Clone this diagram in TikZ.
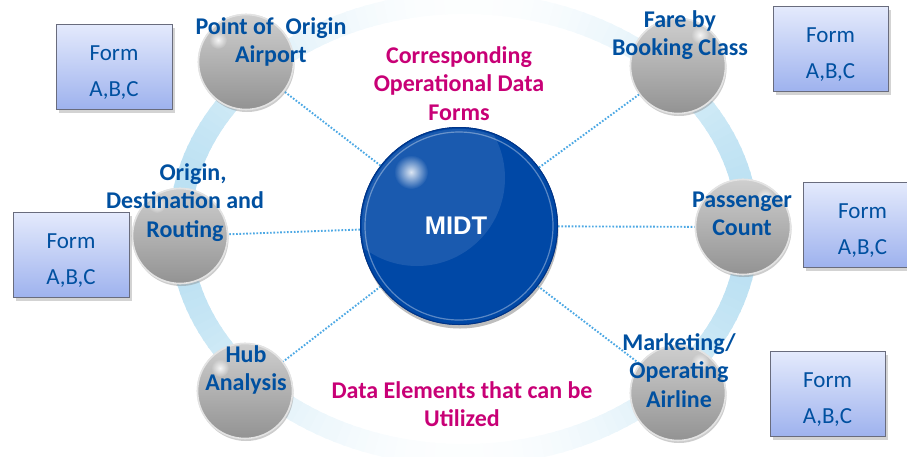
\documentclass[tikz,border=0pt]{standalone}
\usepackage{fontspec}
\setmainfont{Carlito}
\newfontfamily\midtfont{Liberation Sans}
\usetikzlibrary{shadows,fadings}
\tikzfading[name=softspot, inner color=transparent!0, outer color=transparent!100]
\definecolor{ringblue}{RGB}{186,224,242}
\definecolor{dotblue}{RGB}{76,168,228}
\definecolor{labblue}{RGB}{0,80,160}
\definecolor{magtext}{RGB}{200,0,118}
\definecolor{midtblue}{RGB}{0,72,166}
\definecolor{midtedge}{RGB}{0,52,135}
\definecolor{boxtop}{RGB}{228,234,252}
\definecolor{boxbot}{RGB}{158,178,238}
\definecolor{boxedge}{RGB}{105,108,125}
\newcommand\mlines[1]{\begin{tabular}[t]{@{}c@{}}#1\end{tabular}}
\begin{document}
\begin{tikzpicture}[x=1pt,y=-1pt,
  sat/.style={circle, minimum size=95pt, inner sep=0pt,
    top color=gray!38!white, bottom color=gray!85!white,
    draw=gray!22, line width=1.6pt,
    drop shadow={opacity=.22, shadow xshift=1pt, shadow yshift=-2.5pt}},
  midtstyle/.style={circle, minimum size=197pt, inner sep=0pt,
    fill=midtblue, draw=midtedge, line width=1pt,
    drop shadow={opacity=.3, shadow xshift=1pt, shadow yshift=-4pt}},
  formbox/.style={rectangle, minimum height=85pt, inner sep=0pt,
    top color=boxtop, bottom color=boxbot, draw=boxedge, line width=1pt,
    drop shadow={opacity=.35, shadow xshift=2.5pt, shadow yshift=-3.5pt}},
  formtxt/.style={anchor=base, inner sep=0pt, text=labblue,
    font=\fontsize{23}{36}\selectfont},
  satlab/.style={anchor=base, inner sep=0pt, text=labblue,
    font=\fontsize{24}{28.5}\selectfont\bfseries},
  midlab/.style={anchor=base, inner sep=0pt, text=magtext,
    font=\fontsize{24}{28.5}\selectfont\bfseries},
  conn/.style={dotblue, line width=1.9pt, dash pattern=on 1.7pt off 1.7pt},
  sparkle/.style={white, opacity=.85, path fading=softspot}]
\useasboundingbox (0,0) rectangle (907,456);
% ring
\begin{scope}[shift={(464,229)}]
  \foreach \a in {0,2,...,358}{
    \pgfmathsetmacro\p{4+96*(abs(cos(\a)))^2.1}
    \draw[ringblue!\p!white, line width=22pt] (\a:284 and 226) -- (\a+2.6:284 and 226);
  }
\end{scope}
% nodes
\node[midtstyle] (midt) at (459,226) {};
\node[sat] (poa) at (246,62) {};
\node[sat] (fare) at (678,66) {};
\node[sat] (odr) at (180,236) {};
\node[sat] (pc) at (743,227) {};
\node[sat] (hub) at (245,391) {};
\node[sat] (mkt) at (678,393) {};
% connectors
\draw[conn] (midt) -- (poa);
\draw[conn] (midt) -- (fare);
\draw[conn] (midt) -- (odr);
\draw[conn] (midt) -- (pc);
\draw[conn] (midt) -- (hub);
\draw[conn] (midt) -- (mkt);
% redraw spheres over connectors
\node[sat] at (poa.center) {};
\node[sat] at (fare.center) {};
\node[sat] at (odr.center) {};
\node[sat] at (pc.center) {};
\node[sat] at (hub.center) {};
\node[sat] at (mkt.center) {};
\fill[sparkle] ([shift={(-28,-22)}]poa.center) circle (9);
\fill[sparkle] ([shift={(22,-31)}]fare.center) circle (9);
\fill[sparkle] ([shift={(-23,-32)}]odr.center) circle (9);
\fill[sparkle] ([shift={(22,-30)}]pc.center) circle (9);
\fill[sparkle] ([shift={(-25,-23)}]hub.center) circle (9);
\fill[sparkle] ([shift={(22,-31)}]mkt.center) circle (9);
% MIDT gloss
\node[midtstyle] at (midt.center) {};
\begin{scope}
  \clip (midt.center) circle (97);
  \fill[white, opacity=.1] ([shift={(-42,-48)}]midt.center) circle (88);
\end{scope}
\draw[white, opacity=.35, line width=1.2pt] (midt.center) circle (94);
\fill[sparkle] ([shift={(-48,-54)}]midt.center) circle (17);
\node[inner sep=0pt, text=white, font=\midtfont\fontsize{25.5}{28}\selectfont\bfseries] (midtlab) at ([xshift=-3pt]midt.center) {MIDT};
% form boxes
\node[formbox, minimum width=116pt] (fb1) at (114,66.5) {};
\node[formbox, minimum width=115pt] (fb2) at (830.5,49) {};
\node[formbox, minimum width=116pt] (fb3) at (71,255) {};
\node[formbox, minimum width=119pt] (fb4) at (862.5,224.5) {};
\node[formbox, minimum width=115pt] (fb5) at (827.5,394) {};
\node[formtxt] (ft1) at ([yshift=6.5pt]fb1.center) {\mlines{Form\\A,B,C}};
\node[formtxt] (ft2) at ([yshift=6.5pt]fb2.center) {\mlines{Form\\A,B,C}};
\node[formtxt] (ft3) at ([yshift=6.5pt]fb3.center) {\mlines{Form\\A,B,C}};
\node[formtxt] (ft4) at ([yshift=6.5pt]fb4.center) {\mlines{Form\\A,B,C}};
\node[formtxt] (ft5) at ([yshift=6.5pt]fb5.center) {\mlines{Form\\A,B,C}};
% labels
\node[satlab] (poalab) at (271,34) {\mlines{Point of\hspace{12pt}Origin\\Airport}};
\node[satlab] (farelab) at (680,27) {\mlines{Fare by\\Booking Class}};
\node[satlab] (odrlab) at (185,180) {\mlines{\hspace*{16pt}Origin,\\Destination and\\Routing}};
\node[satlab] (pclab) at (742,207) {\mlines{Passenger\\Count}};
\node[satlab] (hublab) at (246,362) {\mlines{Hub\\Analysis}};
\node[satlab] (mktlab) at (679,350) {\mlines{Marketing/\\Operating\\Airline}};
\node[midlab] (corrlab) at (459,63) {\mlines{Corresponding\\Operational Data\\Forms}};
\node[midlab] (datalab) at (462,398) {\mlines{Data Elements that can be\\Utilized}};
\end{tikzpicture}
\end{document}
